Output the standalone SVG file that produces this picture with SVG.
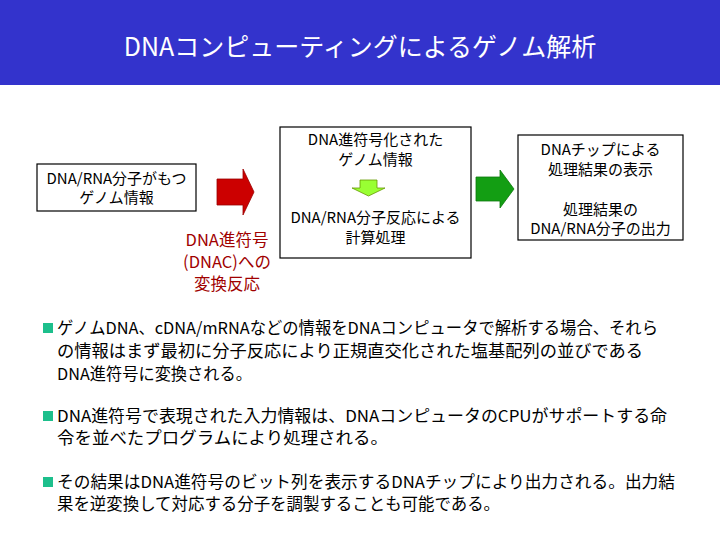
<svg xmlns="http://www.w3.org/2000/svg" width="720" height="540" viewBox="0 0 720 540">
<style>
text{font-family:"Noto Sans CJK JP","Liberation Sans",sans-serif;}
.box{fill:#fff;stroke:#000;stroke-width:1.2;}
.bt{font-size:15px;fill:#000;text-anchor:middle;}
.red{font-size:16.5px;fill:#A00000;text-anchor:middle;}
.para{font-size:16.5px;fill:#000;}
.bul{fill:#1DBF8C;}
</style>
<rect x="0" y="0" width="720" height="85" fill="#3333CC"/>
<text x="360" y="56" font-size="25" fill="#fff" text-anchor="middle">DNAコンピューティングによるゲノム解析</text>

<g id="source">
<rect class="box" x="37" y="164" width="159" height="47"/>
<text class="bt" x="116.5" y="184">DNA/RNA分子がもつ</text>
<text class="bt" x="116.5" y="203">ゲノム情報</text>
</g>

<g id="compute">
<rect class="box" x="280" y="127" width="191" height="131"/>
<text class="bt" x="375.5" y="145">DNA進符号化された</text>
<text class="bt" x="375.5" y="165">ゲノム情報</text>
<text class="bt" x="375.5" y="223">DNA/RNA分子反応による</text>
<text class="bt" x="375.5" y="243">計算処理</text>
</g>

<g id="output">
<rect class="box" x="518" y="135" width="165" height="105"/>
<text class="bt" x="600.5" y="155">DNAチップによる</text>
<text class="bt" x="600.5" y="175">処理結果の表示</text>
<text class="bt" x="600.5" y="215">処理結果の</text>
<text class="bt" x="600.5" y="234">DNA/RNA分子の出力</text>
</g>

<g id="reaction-label">
<text class="red" x="227" y="246">DNA進符号</text>
<text class="red" x="227" y="268">(DNAC)への</text>
<text class="red" x="227" y="290">変換反応</text>
</g>

<g id="connectors">
<polygon points="217,179 243,179 243,169 254,192 243,215 243,205 217,205" fill="#CC0000" stroke="#990000" stroke-width="0.8"/>
<polygon points="360,180 377,180 377,188 385,188 368.5,196 352,188 360,188" fill="#99FF33" stroke="#669900" stroke-width="0.8"/>
<polygon points="476,177 500,177 500,170 514,189 500,208 500,201 476,201" fill="#139E13" stroke="#0E7A0E" stroke-width="0.8"/>
</g>

<g id="bullets">
<rect class="bul" x="43" y="323" width="10" height="10"/>
<text class="para" x="57" y="334" textLength="601" lengthAdjust="spacingAndGlyphs">ゲノムDNA、cDNA/mRNAなどの情報をDNAコンピュータで解析する場合、それら</text>
<text class="para" x="57" y="357" textLength="586" lengthAdjust="spacingAndGlyphs">の情報はまず最初に分子反応により正規直交化された塩基配列の並びである</text>
<text class="para" x="57" y="380" textLength="195" lengthAdjust="spacingAndGlyphs">DNA進符号に変換される。</text>
<rect class="bul" x="43" y="411" width="10" height="10"/>
<text class="para" x="57" y="422" textLength="610" lengthAdjust="spacingAndGlyphs">DNA進符号で表現された入力情報は、DNAコンピュータのCPUがサポートする命</text>
<text class="para" x="57" y="444" textLength="331" lengthAdjust="spacingAndGlyphs">令を並べたプログラムにより処理される。</text>
<rect class="bul" x="43" y="477" width="10" height="10"/>
<text class="para" x="57" y="488" textLength="618" lengthAdjust="spacingAndGlyphs">その結果はDNA進符号のビット列を表示するDNAチップにより出力される。出力結</text>
<text class="para" x="57" y="510" textLength="443" lengthAdjust="spacingAndGlyphs">果を逆変換して対応する分子を調製することも可能である。</text>
</g>
</svg>
